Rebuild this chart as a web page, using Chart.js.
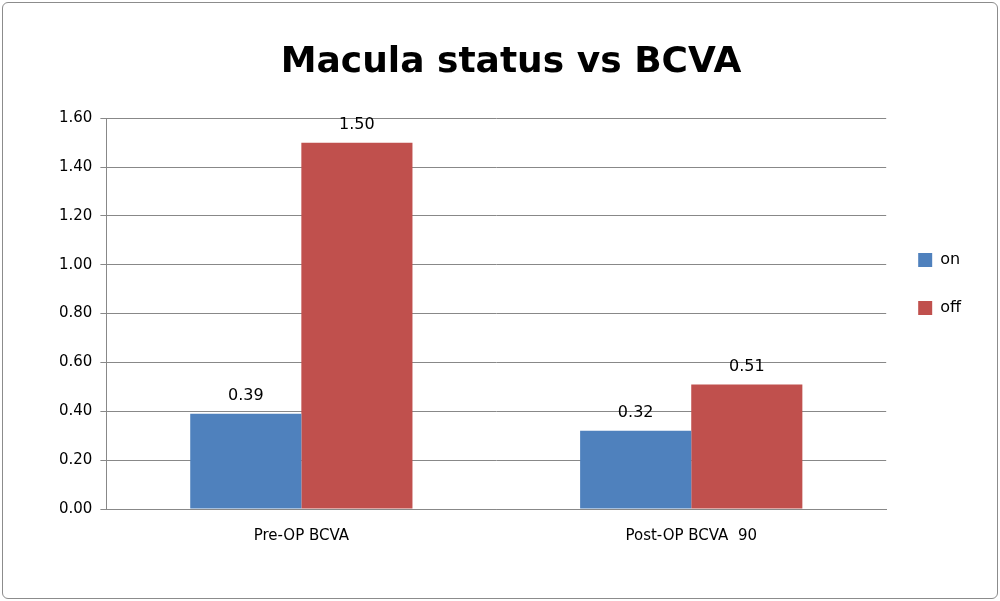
<!DOCTYPE html>
<html>
<head>
<meta charset="utf-8">
<script src="https://cdn.jsdelivr.net/npm/chart.js@4"></script>
<style>
  html, body { margin: 0; padding: 0; background: #fff; }
  #wrap { position: relative; width: 994px; height: 595px; margin: 2px; border: 1px solid #8c8c8c; border-radius: 6px; }
</style>
</head>
<body>
<div id="wrap"><canvas id="chart" width="994" height="595"></canvas></div>
<script>
// データ
const categories = ["Pre-OP BCVA", "Post-OP BCVA  90"];
const onValues = [0.39, 0.32];
const offValues = [1.50, 0.51];

// 棒の上に値を表示
const valueLabels = {
  id: "valueLabels",
  afterDatasetsDraw(chart) {
    const ctx = chart.ctx;
    ctx.save();
    ctx.font = "16px 'DejaVu Sans'";
    ctx.fillStyle = "#000";
    ctx.textAlign = "center";
    ctx.textBaseline = "bottom";
    chart.data.datasets.forEach((ds, i) => {
      chart.getDatasetMeta(i).data.forEach((bar, j) => {
        ctx.fillText(ds.data[j].toFixed(2), bar.x, bar.y - 10);
      });
    });
    ctx.restore();
  }
};

const ctx = document.getElementById("chart").getContext("2d");
new Chart(ctx, {
  type: "bar",
  data: {
    labels: categories,
    datasets: [
      { label: "on", data: onValues, backgroundColor: "#4f81bd" },
      { label: "off", data: offValues, backgroundColor: "#c0504d" }
    ]
  },
  options: {
    responsive: false,
    animation: false,
    layout: { padding: { left: 48, right: 26, top: 10, bottom: 43 } },
    datasets: { bar: { categoryPercentage: 0.57, barPercentage: 1 } },
    scales: {
      x: {
        grid: { display: false, drawTicks: true },
        border: { color: "#888" },
        ticks: { color: "#000", font: { family: "DejaVu Sans", size: 15 }, padding: 10 }
      },
      y: {
        min: 0, max: 1.6,
        ticks: { stepSize: 0.2, color: "#000", font: { family: "DejaVu Sans", size: 15 },
                 callback: v => v.toFixed(2), padding: 8 },
        grid: { color: "#888", tickLength: 6 },
        border: { color: "#888" }
      }
    },
    plugins: {
      title: { display: true, text: "Macula status vs BCVA", color: "#000",
               font: { family: "DejaVu Sans", size: 36, weight: "bold" }, padding: { top: 28, bottom: 34 } },
      legend: { position: "right", align: "center",
               labels: { color: "#000", font: { family: "DejaVu Sans", size: 16 },
               boxWidth: 14, boxHeight: 14, padding: 32 } },
      tooltip: { enabled: false }
    }
  },
  plugins: [valueLabels]
});
</script>
</body>
</html>
